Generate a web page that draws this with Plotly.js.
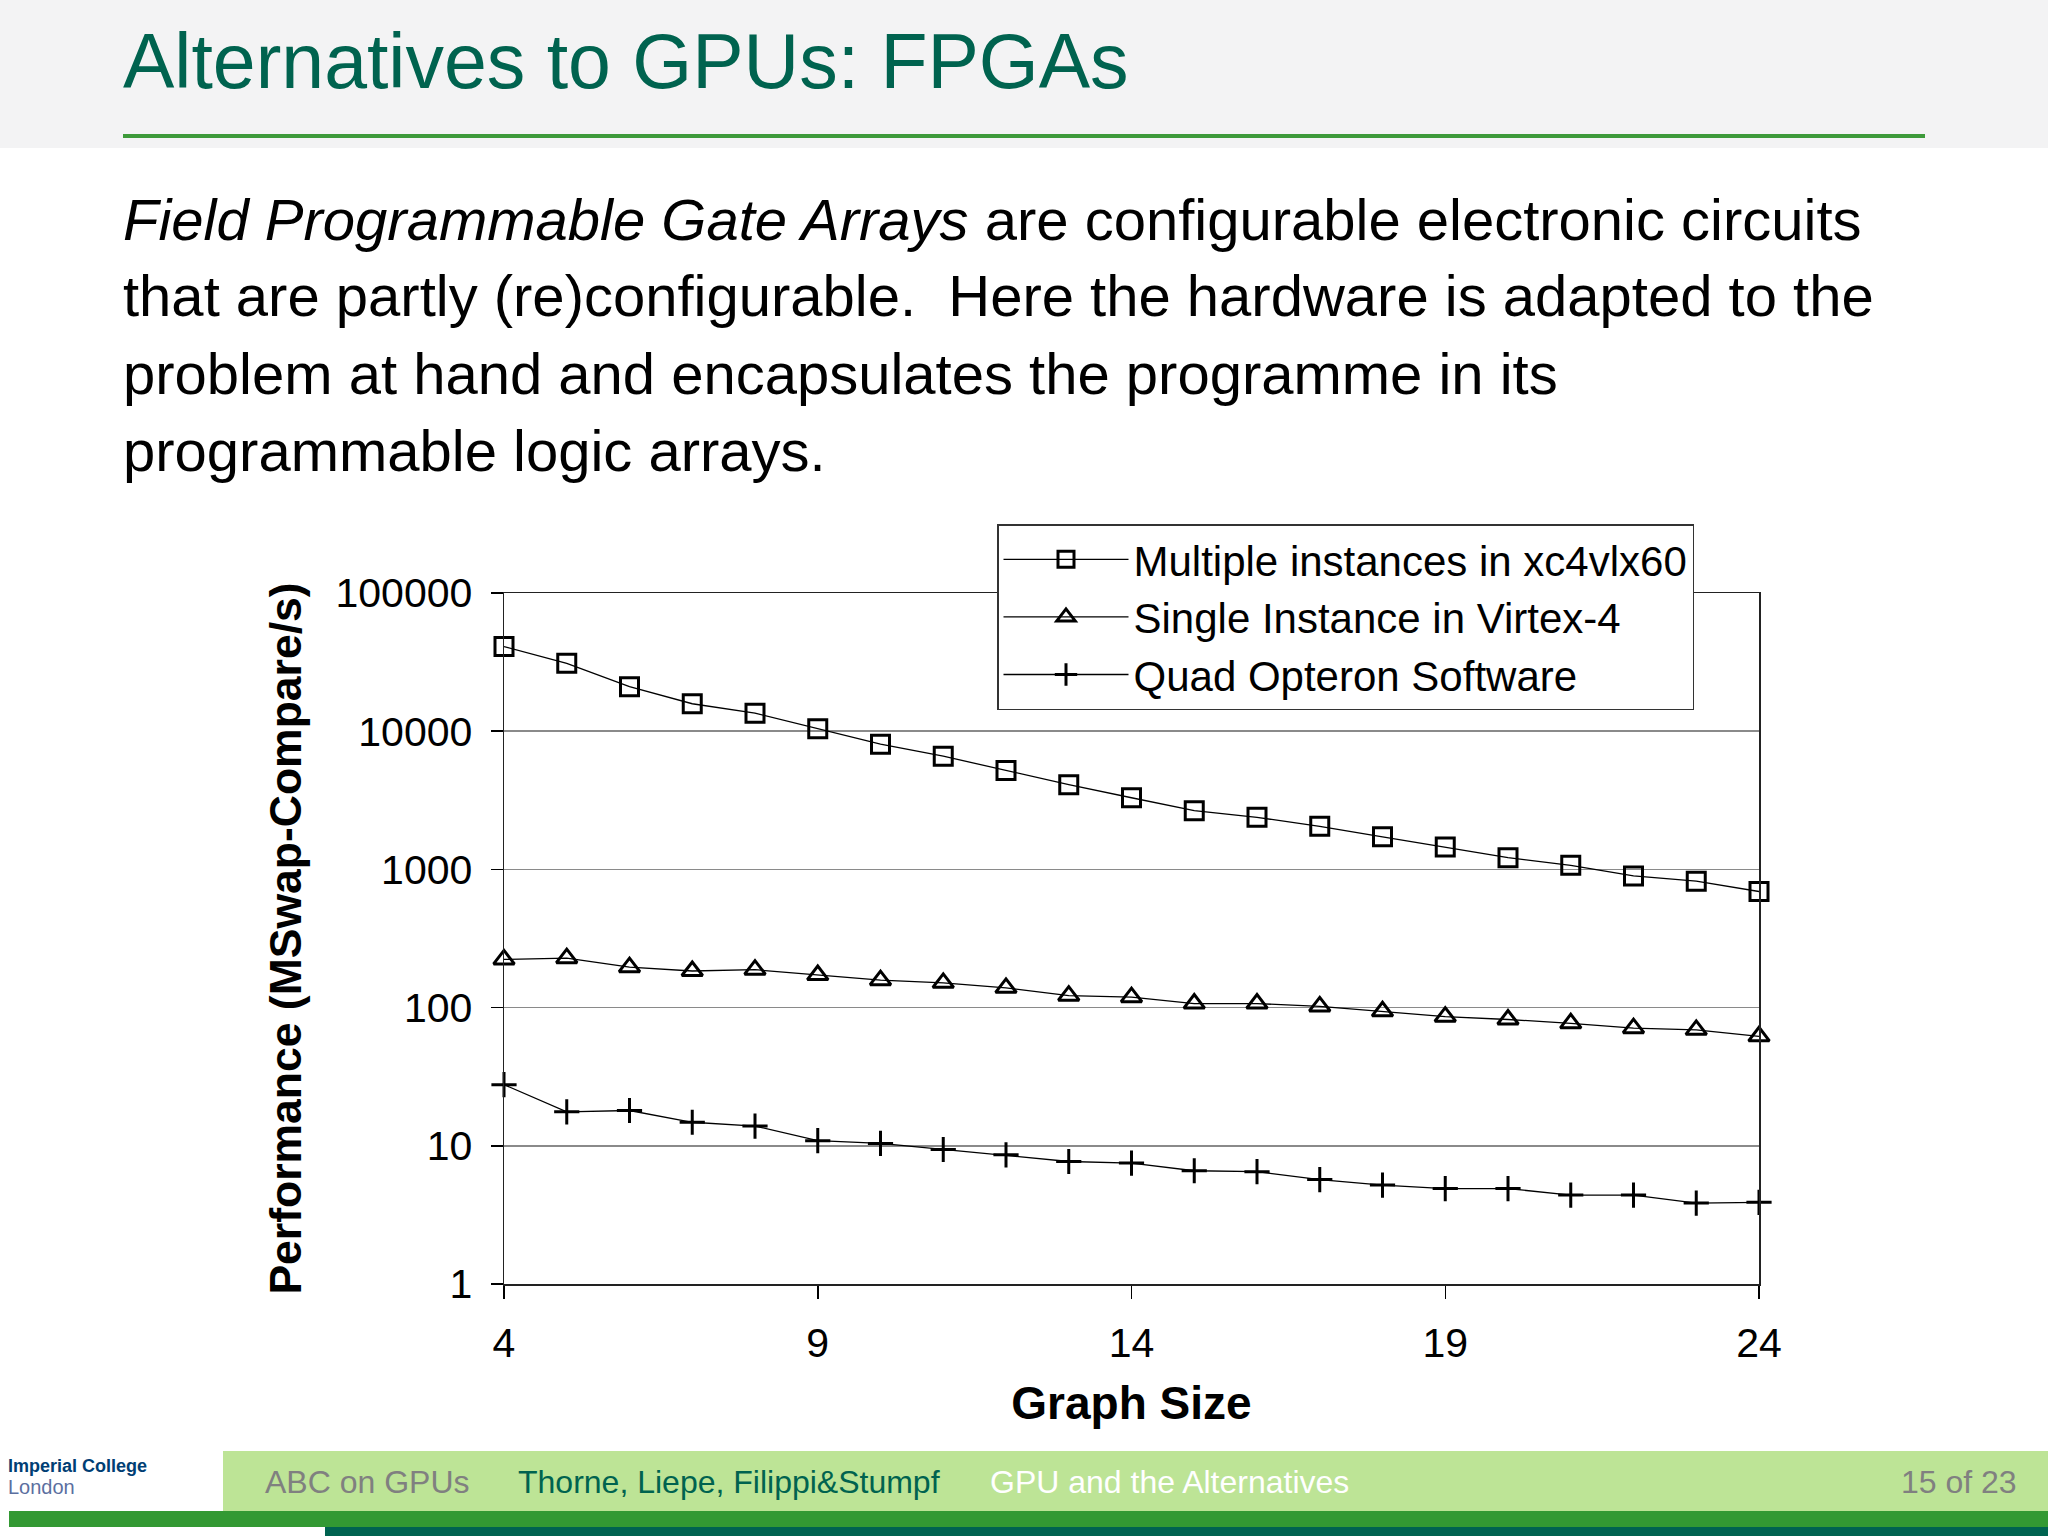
<!DOCTYPE html>
<html><head><meta charset="utf-8">
<script src="https://cdn.plot.ly/plotly-3.0.1.min.js"></script>
<style>html,body{margin:0;padding:0;background:#fff;} #chart{width:2048px;height:1536px;}</style>
</head><body><div id="chart"></div><script>
// ---- data ----
const graphSize = [4,5,6,7,8,9,10,11,12,13,14,15,16,17,18,19,20,21,22,23,24];
const multipleInstances = [41000,31000,21000,15800,13500,10400,8050,6600,5200,4100,3300,2660,2380,2050,1720,1450,1215,1070,897,822,692];
const singleInstance = [223,228,196,184,188,172,158,151,139,122,119,107,107,102,94,86,82,77,71,69,62];
const quadOpteron = [27.7,17.6,18,14.8,13.9,10.9,10.4,9.4,8.6,7.7,7.5,6.6,6.5,5.7,5.2,4.9,4.9,4.4,4.4,3.85,3.9];
const seriesNames = ['Multiple instances in xc4vlx60','Single Instance in Virtex-4','Quad Opteron Software'];
const seriesSymbols = ['square-open','triangle-up-open','cross-thin-open'];
const xTickVals = [4,9,14,19,24];
const xTickText = ['4','9','14','19','24'];
const yTickVals = [1,10,100,1000,10000,100000];
const yTickText = ['1','10','100','1000','10000','100000'];
const slideTitle = 'Alternatives to GPUs: FPGAs';
const bodyLines = [
  '<i>Field Programmable Gate Arrays</i> are configurable electronic circuits',
  'that are partly (re)configurable.  Here the hardware is adapted to the',
  'problem at hand and encapsulates the programme in its',
  'programmable logic arrays.'
];
const footerItems = ['ABC on GPUs','Thorne, Liepe, Filippi&Stumpf','GPU and the Alternatives','15 of 23'];

// ---- page geometry ----
const W = 2048, H = 1536;
const M = {l:504, r:289, t:593, b:252};
const PW = W - M.l - M.r, PH = H - M.t - M.b;
const X = px => (px - M.l) / PW;
const Y = py => (H - M.b - py) / PH;
const FONT = 'Liberation Sans, Arial, Helvetica, sans-serif';

const seriesValues = [multipleInstances, singleInstance, quadOpteron];
const traces = seriesValues.map((vals, i) => ({
  type: 'scatter', mode: 'lines+markers',
  x: graphSize, y: vals, name: seriesNames[i],
  line: {color: '#000', width: 1.3},
  marker: {symbol: seriesSymbols[i], size: 18, color: '#000', line: {color: '#000', width: 3}},
  cliponaxis: false
}));

function rect(x0, y0, x1, y1, color) {
  return {type: 'rect', xref: 'paper', yref: 'paper', x0: X(x0), x1: X(x1), y0: Y(y1), y1: Y(y0),
          fillcolor: color, line: {width: 0}, layer: 'below'};
}
const shapes = [
  rect(0, 0, W, 148, '#f3f3f4'),
  rect(123, 134, 1925, 138, '#3d9a3a'),
  rect(223, 1451, W, 1511, '#bde496'),
  rect(9, 1511, W, 1527, '#339933'),
  rect(325, 1527, W, H, '#006350')
];

function ann(text, px, py, size, color, extra) {
  return Object.assign({text: text, xref: 'paper', yref: 'paper', x: X(px), y: Y(py),
    xanchor: 'left', yanchor: 'middle', showarrow: false,
    font: {family: FONT, size: size, color: color}}, extra || {});
}
const annotations = [
  ann(slideTitle, 121, 61, 77, '#00634f'),
  ann(bodyLines[0], 121, 219, 58, '#000'),
  ann(bodyLines[1], 121, 296, 58, '#000'),
  ann(bodyLines[2], 121, 373, 58, '#000'),
  ann(bodyLines[3], 121, 450, 58, '#000'),
  ann(footerItems[0], 263, 1482, 32, '#808080'),
  ann(footerItems[1], 516, 1482, 32, '#00634f'),
  ann(footerItems[2], 988, 1482, 32, '#ffffff'),
  ann(footerItems[3], 2019, 1482, 32, '#808080', {xanchor: 'right'}),
  ann('Imperial College', 6, 1466, 18, '#003e74', {font: {family: FONT, size: 18, color: '#003e74', weight: 'bold'}}),
  ann('London', 6, 1487, 20, '#5b6f9f')
];

const layout = {
  width: W, height: H,
  margin: M,
  paper_bgcolor: '#ffffff', plot_bgcolor: '#ffffff',
  font: {family: FONT, color: '#000'},
  showlegend: true,
  legend: {
    x: X(997), y: Y(524), xanchor: 'left', yanchor: 'top',
    bgcolor: '#ffffff', bordercolor: '#333', borderwidth: 1.5,
    font: {family: FONT, size: 42, color: '#000'},
    itemwidth: 125, tracegroupgap: 0
  },
  xaxis: {
    range: [4, 24], tickvals: xTickVals, ticktext: xTickText,
    showgrid: false, zeroline: false,
    showline: true, linecolor: '#222', linewidth: 1.5, mirror: true,
    ticks: 'outside', ticklen: 13, tickwidth: 1.5, tickcolor: '#000',
    tickfont: {family: FONT, size: 41, color: '#000'},
    ticklabelstandoff: 9,
    title: {text: 'Graph Size', font: {family: FONT, size: 46, color: '#000', weight: 'bold'}, standoff: 22}
  },
  yaxis: {
    type: 'log', range: [0, 5], tickvals: yTickVals, ticktext: yTickText,
    showgrid: true, gridcolor: '#8a8a8a', gridwidth: 1.5, zeroline: false,
    showline: true, linecolor: '#222', linewidth: 1.5, mirror: true,
    ticks: 'outside', ticklen: 12, tickwidth: 1.5, tickcolor: '#000',
    tickfont: {family: FONT, size: 41, color: '#000'},
    ticklabelstandoff: 10,
    title: {text: 'Performance (MSwap-Compare/s)', font: {family: FONT, size: 44.5, color: '#000', weight: 'bold'}, standoff: 20}
  },
  shapes: shapes,
  annotations: annotations
};

Plotly.newPlot('chart', traces, layout, {displayModeBar: false, staticPlot: true});
</script></body></html>
